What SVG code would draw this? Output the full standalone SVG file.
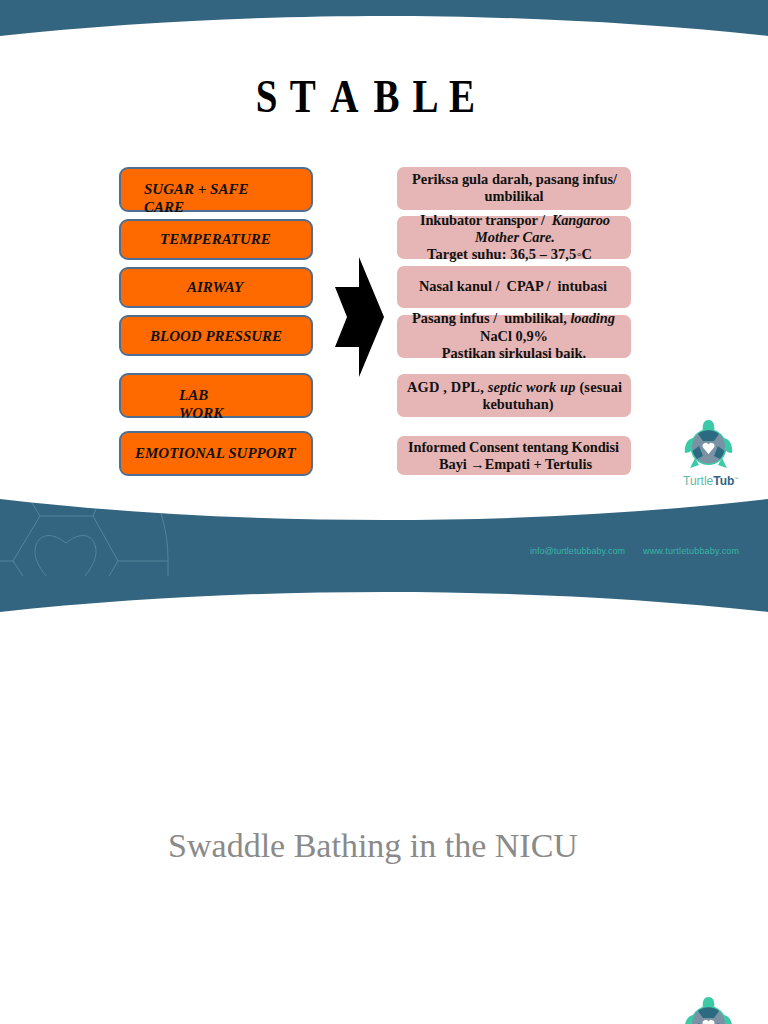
<svg xmlns="http://www.w3.org/2000/svg" xmlns:xlink="http://www.w3.org/1999/xlink" width="768" height="1024" viewBox="0 0 768 1024">
<style>
text{font-family:"Liberation Serif",serif;fill:#111}
.l{font-size:15px;font-weight:bold;font-style:italic}
.r{font-size:14.4px;font-weight:bold;text-anchor:middle}
.o{fill:#ff6a00;stroke:#4f6f92;stroke-width:2}
.p{fill:#e6b5b5}
.b{fill:#336581}
.g{fill:none;stroke:#55849b;stroke-width:1}
.i{font-style:italic}
.u{font-family:"Liberation Sans",sans-serif;font-size:9px;fill:#38b5a6}
</style>
<defs>
<g id="turtle">
<path d="M703 432C702 426 703 420 708.500 420C714 420 715 426 714 432Z" fill="#3cc9a7"/>
<path d="M693 438C687 439 684 446 685 453C690 453 692 450 693 447ZM724 438C730 439 733 446 732 453C727 453 725 450 724 447ZM695 458L690 468L699 465ZM722 458L727 468L718 465Z" fill="#3cc9a7"/>
<circle cx="708.500" cy="447" r="18" fill="#3cc9a7"/>
<circle cx="708.500" cy="447" r="16.500" fill="#7b92a5"/>
<path d="M698 434A16.500 16.500 0 0 1 719 434L714 441H703Z M692.500 451L699 446L703 456L697 459A16.500 16.500 0 0 1 692.500 451Z M724.500 451L718 446L714 456L720 459A16.500 16.500 0 0 0 724.500 451Z" fill="#2b6a80"/>
<path d="M708.500 454L703 447.500A3 3 0 0 1 708.500 444.500A3 3 0 0 1 714 447.500Z" fill="#fff"/>
</g>
</defs>
<rect width="768" height="1024" fill="#fff"/>
<path class="b" d="M0 0H768V36C640 22 500 16 384 16S128 22 0 36Z"/>
<path class="b" d="M0 499C130 514 260 520 384 520S640 514 768 499V612C640 598 510 592 384 592S130 598 0 612Z"/>
<g id="watermark">
<path class="g" d="M32 503L40 516H93L96 509M40 516L13 561L23 576M0 561H13M93 516L118 561L109 576M118 561H168V576M161 513C166 530 168 545 168 561M46 576C38 566 35 558 35 552C35 538 47 528 66 543C85 528 96 538 96 552C96 558 93 566 85 576"/>
</g>
<text class="u" x="530" y="554" textLength="95">info@turtletubbaby.com</text>
<text class="u" x="643" y="554" textLength="96">www.turtletubbaby.com</text>
<text transform="scale(.83 1)" y="112" font-size="47" font-weight="bold" x="308 349 398 450 497 541" style="fill:#000">STABLE</text>
<g id="n1"><rect class="o" x="120" y="168" width="192" height="43" rx="8"/><text class="l" x="144" y="194">SUGAR + SAFE</text><text class="l" x="144" y="212">CARE</text></g>
<g id="n2"><rect class="o" x="120" y="220" width="192" height="39" rx="8"/><text class="l" x="160" y="244">TEMPERATURE</text></g>
<g id="n3"><rect class="o" x="120" y="268" width="192" height="39" rx="8"/><text class="l" x="187" y="292">AIRWAY</text></g>
<g id="n4"><rect class="o" x="120" y="316" width="192" height="39" rx="8"/><text class="l" x="150" y="341">BLOOD PRESSURE</text></g>
<g id="n5"><rect class="o" x="120" y="374" width="192" height="43" rx="8"/><text class="l" x="179" y="400">LAB</text><text class="l" x="179" y="418">WORK</text></g>
<g id="n6"><rect class="o" x="120" y="432" width="192" height="43" rx="8"/><text class="l" x="135" y="458">EMOTIONAL SUPPORT</text></g>
<g id="arrow"><path d="M359 257L384 317L359 377V347H335L347 317L335 287H359Z" fill="#000"/></g>
<g id="r1"><rect class="p" x="397" y="167" width="234" height="43" rx="7"/><text class="r" x="514.500" y="184" textLength="205">Periksa gula darah, pasang infus/</text><text class="r" x="514" y="201">umbilikal</text></g>
<g id="r2"><rect class="p" x="397" y="216" width="234" height="43" rx="7"/><text class="r" x="515" y="225" textLength="190">Inkubator transpor /&#160; <tspan class="i">Kangaroo</tspan></text><text class="r i" x="515" y="242">Mother Care.</text><text class="r" x="509.500" y="259" textLength="165">Target suhu: 36,5 – 37,5◦C</text></g>
<g id="r3"><rect class="p" x="397" y="266" width="234" height="42" rx="7"/><text class="r" x="513" y="291" textLength="188">Nasal kanul /&#160; CPAP /&#160; intubasi</text></g>
<g id="r4"><rect class="p" x="397" y="315" width="234" height="43" rx="7"/><text class="r" x="513.500" y="323" textLength="203">Pasang infus /&#160; umbilikal, <tspan class="i">loading</tspan></text><text class="r" x="514" y="341">NaCl 0,9%</text><text class="r" x="514" y="358">Pastikan sirkulasi baik.</text></g>
<g id="r5"><rect class="p" x="397" y="374" width="234" height="43" rx="7"/><text class="r" x="514.500" y="392" textLength="215">AGD , DPL, <tspan class="i">septic work up</tspan> (sesuai</text><text class="r" x="518" y="409">kebutuhan)</text></g>
<g id="r6"><rect class="p" x="397" y="436" width="234" height="39" rx="7"/><text class="r" x="513.500" y="452" textLength="211">Informed Consent tentang Kondisi</text><text class="r" x="515.500" y="469" textLength="153">Bayi →Empati + Tertulis</text></g>
<g id="logo">
<use xlink:href="#turtle" href="#turtle"/>
<text x="683" y="485" font-size="12" style="font-family:'Liberation Sans',sans-serif;fill:#5fb9a8">Turtle<tspan style="fill:#336581;font-weight:bold">Tub</tspan><tspan font-size="4" dy="-5" style="fill:#5f7f8f">™</tspan></text>
</g>
<text x="373" y="857" font-size="34" text-anchor="middle" style="fill:#8a8a8a">Swaddle Bathing in the NICU</text>
<g id="logo2"><use xlink:href="#turtle" href="#turtle" y="577"/></g>
</svg>
